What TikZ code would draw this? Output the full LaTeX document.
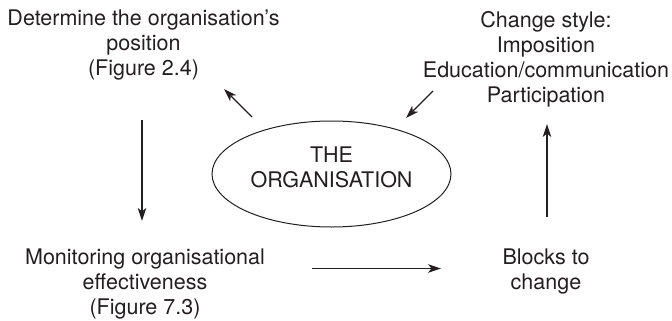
\documentclass[tikz,border=0pt]{standalone}
\usepackage{fontspec}
\setmainfont{TeX Gyre Heros}
\usetikzlibrary{arrows.meta,shapes.geometric}
\definecolor{ink}{HTML}{231F20}
\tikzset{
  lbl/.style={inner sep=0pt, align=center, text=ink, font=\fontsize{21.5}{25}\selectfont},
  arr/.style={draw=ink, line width=1.1pt, -{Stealth[length=13pt,width=8.5pt,inset=3.5pt]}},
  orgshape/.style={draw=ink, line width=1pt, ellipse, minimum width=239pt, minimum height=106pt, inner sep=0pt}
}
\begin{document}
\begin{tikzpicture}[x=1pt,y=-1pt]
\useasboundingbox (0,0) rectangle (672,321);
\node[lbl] (tl) at (143.5,45) {Determine the organisation’s\\position\\(Figure 2.4)};
\node[lbl] (tr) at (546,59) {Change style:\\Imposition\\Education/communication\\Participation};
\node[orgshape] (org) at (331.5,174) {};
\node[lbl] (orgtext) at (331.5,167) {THE\\ORGANISATION};
\node[lbl] (bl) at (145,284) {Monitoring organisational\\effectiveness\\(Figure 7.3)};
\node[lbl] (br) at (546,272) {Blocks to\\change};
\coordinate (a1s) at (252,117);
\coordinate (a1e) at (224,89);
\coordinate (a2s) at (433,91);
\coordinate (a2e) at (406,118);
\coordinate (a3s) at (142,120);
\coordinate (a3e) at (142,221);
\coordinate (a4s) at (547,217);
\coordinate (a4e) at (547,124);
\coordinate (a5s) at (312,268.5);
\coordinate (a5e) at (441,268.5);
\draw[arr] (a1s) -- (a1e);
\draw[arr] (a2s) -- (a2e);
\draw[arr] (a3s) -- (a3e);
\draw[arr] (a4s) -- (a4e);
\draw[arr] (a5s) -- (a5e);
\end{tikzpicture}
\end{document}
